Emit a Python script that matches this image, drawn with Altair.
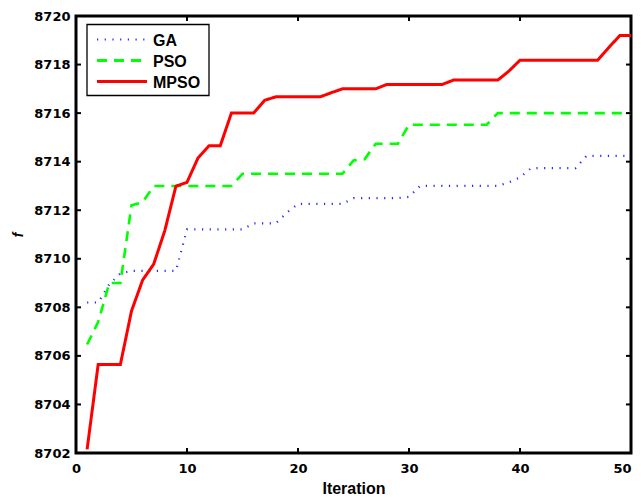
import altair as alt
import pandas as pd

iterations = list(range(1, 51))

ga = [8708.2, 8708.2, 8708.95, 8709.4, 8709.5, 8709.5, 8709.5, 8709.5, 8709.5, 8711.21,
      8711.21, 8711.21, 8711.21, 8711.21, 8711.21, 8711.46, 8711.46, 8711.46, 8711.9, 8712.26,
      8712.26, 8712.26, 8712.26, 8712.26, 8712.5, 8712.5, 8712.5, 8712.5, 8712.5, 8712.55,
      8713.0, 8713.0, 8713.0, 8713.0, 8713.0, 8713.0, 8713.0, 8713.0, 8713.15, 8713.35,
      8713.73, 8713.73, 8713.73, 8713.73, 8713.73, 8714.24, 8714.24, 8714.24, 8714.24, 8714.24]

pso = [8706.47, 8707.4, 8709.0, 8709.0, 8712.2, 8712.33, 8713.0, 8713.0, 8713.0, 8713.0,
       8713.0, 8713.0, 8713.0, 8713.0, 8713.5, 8713.5, 8713.5, 8713.5, 8713.5, 8713.5,
       8713.5, 8713.5, 8713.5, 8713.5, 8714.05, 8714.1, 8714.74, 8714.74, 8714.74, 8715.52,
       8715.52, 8715.52, 8715.52, 8715.52, 8715.52, 8715.52, 8715.52, 8716.0, 8716.0, 8716.0,
       8716.0, 8716.0, 8716.0, 8716.0, 8716.0, 8716.0, 8716.0, 8716.0, 8716.0, 8716.0]

mpso = [8702.15, 8705.65, 8705.65, 8705.65, 8707.85, 8709.12, 8709.78, 8711.16, 8712.99, 8713.15,
        8714.16, 8714.66, 8714.66, 8716.0, 8716.0, 8716.0, 8716.53, 8716.67, 8716.67, 8716.67,
        8716.67, 8716.67, 8716.84, 8717.0, 8717.0, 8717.0, 8717.0, 8717.18, 8717.18, 8717.18,
        8717.18, 8717.18, 8717.18, 8717.36, 8717.36, 8717.36, 8717.36, 8717.36, 8717.73, 8718.18,
        8718.18, 8718.18, 8718.18, 8718.18, 8718.18, 8718.18, 8718.18, 8718.7, 8719.2, 8719.2]

series_names = ["GA", "PSO", "MPSO"]
series_colors = ["#2a2aff", "#00ff00", "#ff0000"]
series_dash = [[1.2, 6.5], [10, 7], [1, 0]]
series_width = [2.2, 3, 3]

x_ticks = [0, 10, 20, 30, 40, 50]
y_ticks = [8702, 8704, 8706, 8708, 8710, 8712, 8714, 8716, 8718, 8720]

W, H = 555, 437

rows = []
for name, vals in zip(series_names, [ga, pso, mpso]):
    for it, v in zip(iterations, vals):
        rows.append({"Iteration": it, "f": v, "series": name})
df = pd.DataFrame(rows)

xscale = alt.Scale(domain=[0, 50], nice=False, zero=False)
yscale = alt.Scale(domain=[8702, 8720], nice=False, zero=False)

xaxis = alt.Axis(values=x_ticks, ticks=False, domain=False, grid=False, labelFlush=False,
                 labelAlign=alt.expr("datum.value == 50 ? 'right' : 'center'"),
                 labelPadding=9, title="Iteration", titlePadding=5)
yaxis = alt.Axis(values=y_ticks, ticks=False, domain=False, grid=False, format="d",
                 labelFlush=False, labelPadding=6, title="f", titlePadding=8,
                 titleFontStyle="italic", titleFontSize=14)

lines = alt.Chart(df).mark_line(clip=True).encode(
    x=alt.X("Iteration:Q", scale=xscale, axis=xaxis),
    y=alt.Y("f:Q", scale=yscale, axis=yaxis),
    color=alt.Color("series:N", scale=alt.Scale(domain=series_names, range=series_colors),
                    legend=None),
    strokeDash=alt.StrokeDash("series:N", scale=alt.Scale(domain=series_names, range=series_dash),
                              legend=None),
    strokeWidth=alt.StrokeWidth("series:N", scale=alt.Scale(domain=series_names, range=series_width),
                                legend=None),
    order=alt.Order("Iteration:Q"),
)

xt = pd.DataFrame({"Iteration": x_ticks})
yt = pd.DataFrame({"f": y_ticks})
tl = 5

bottom_ticks = alt.Chart(xt).mark_rule(color="black", strokeWidth=2).encode(
    x=alt.X("Iteration:Q", scale=xscale, axis=xaxis), y=alt.value(H), y2=alt.value(H - tl))
top_ticks = alt.Chart(xt).mark_rule(color="black", strokeWidth=2).encode(
    x=alt.X("Iteration:Q", scale=xscale, axis=xaxis), y=alt.value(0), y2=alt.value(tl))
left_ticks = alt.Chart(yt).mark_rule(color="black", strokeWidth=2).encode(
    y=alt.Y("f:Q", scale=yscale, axis=yaxis), x=alt.value(0), x2=alt.value(tl))
right_ticks = alt.Chart(yt).mark_rule(color="black", strokeWidth=2).encode(
    y=alt.Y("f:Q", scale=yscale, axis=yaxis), x=alt.value(W), x2=alt.value(W - tl))

# manual legend box (top-left)
lx0, lx1, ly0, ly1 = 11, 133, 8.5, 79.5
row_y = [23.5, 44.5, 65.5]
one = pd.DataFrame({"k": [0]})
legend_layers = [
    alt.Chart(one).mark_rect(fill="white", stroke="black", strokeWidth=1.3).encode(
        x=alt.value(lx0), x2=alt.value(lx1), y=alt.value(ly0), y2=alt.value(ly1))
]
for name, col, dash, sw, ry in zip(series_names, series_colors, series_dash, series_width, row_y):
    legend_layers.append(
        alt.Chart(one).mark_rule(color=col, strokeDash=dash, strokeWidth=sw).encode(
            x=alt.value(21), x2=alt.value(71), y=alt.value(ry)))
    legend_layers.append(
        alt.Chart(pd.DataFrame({"label": [name]})).mark_text(
            align="left", baseline="middle", font="Liberation Sans", fontWeight="bold",
            fontSize=16, color="black").encode(
            text="label:N", x=alt.value(77), y=alt.value(ry + 1)))

chart = alt.layer(lines, bottom_ticks, top_ticks, left_ticks, right_ticks, *legend_layers).properties(
    width=W, height=H,
    padding={"left": 68, "top": 8, "right": 2, "bottom": 45},
    autosize=alt.AutoSizeParams(type="none"),
    background="white",
).configure_view(
    stroke="black", strokeWidth=3
).configure_axis(
    labelFont="DejaVu Sans", labelFontWeight="bold", labelFontSize=13, labelColor="black",
    titleFont="Liberation Sans", titleFontWeight="bold", titleFontSize=16, titleColor="black",
)

chart.save("out.html", embed_options={"renderer": "svg", "actions": False})
